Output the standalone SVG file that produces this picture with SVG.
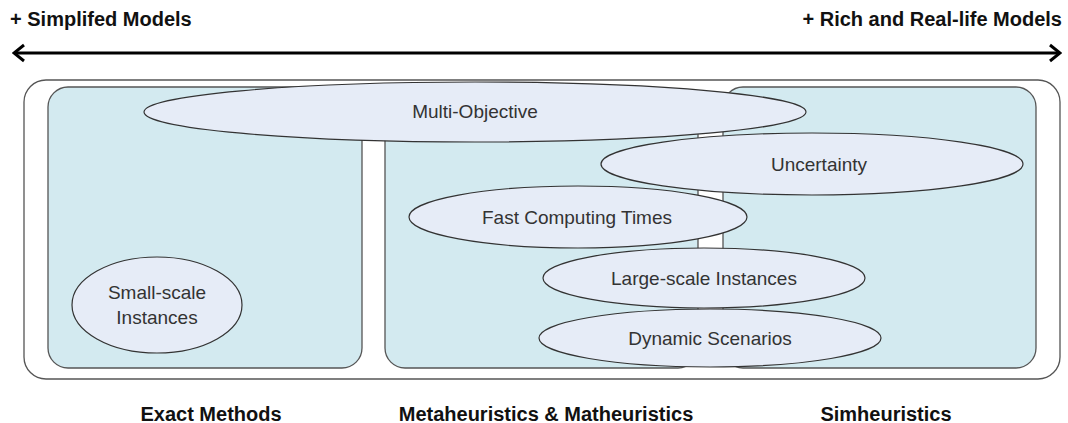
<svg xmlns="http://www.w3.org/2000/svg" width="1068" height="423" viewBox="0 0 1068 423">
<defs>
<style>
.lbl{font-family:"Liberation Sans",Arial,sans-serif;font-size:20px;font-weight:bold;fill:#111}
.txt{font-family:"Liberation Sans",Arial,sans-serif;font-size:19px;fill:#333;text-anchor:middle}
.panel{fill:#d3eaf0;stroke:#555;stroke-width:1.3}
.ell{fill:#e6ecf7;stroke:#333;stroke-width:1.2}
</style>
<marker id="ah" markerWidth="14" markerHeight="20" refX="12" refY="10" orient="auto-start-reverse" markerUnits="userSpaceOnUse">
<path d="M2,2 L12,10 L2,18" fill="none" stroke="#000" stroke-width="3"/>
</marker>
</defs>
<rect width="1068" height="423" fill="#fff"/>
<text class="lbl" x="10" y="26">+ Simplifed Models</text>
<text class="lbl" x="1062" y="26" text-anchor="end">+ Rich and Real-life Models</text>
<g id="connectors">
<line x1="14" y1="53" x2="1060" y2="53" stroke="#000" stroke-width="3" marker-start="url(#ah)" marker-end="url(#ah)"/>
</g>
<g id="frame"><rect x="24" y="80" width="1036" height="299" rx="22" fill="#fff" stroke="#555" stroke-width="1.3"/></g>
<g id="exact"><rect class="panel" x="48" y="87" width="314" height="281" rx="20"/></g>
<g id="meta"><rect class="panel" x="385" y="100" width="313" height="268" rx="20"/></g>
<g id="sim"><rect class="panel" x="723" y="87" width="313" height="281" rx="20"/></g>
<g id="multi"><ellipse class="ell" cx="475" cy="112" rx="331" ry="30"/><text class="txt" x="475" y="118">Multi-Objective</text></g>
<g id="uncert"><ellipse class="ell" cx="812" cy="164" rx="211" ry="31"/><text class="txt" x="819" y="171">Uncertainty</text></g>
<g id="fast"><ellipse class="ell" cx="578" cy="217" rx="169" ry="31"/><text class="txt" x="577" y="224">Fast Computing Times</text></g>
<g id="large"><ellipse class="ell" cx="704" cy="278" rx="161" ry="30"/><text class="txt" x="704" y="285">Large-scale Instances</text></g>
<g id="dynamic"><ellipse class="ell" cx="710" cy="338" rx="171" ry="29"/><text class="txt" x="710" y="345">Dynamic Scenarios</text></g>
<g id="small"><ellipse class="ell" cx="157" cy="305" rx="85" ry="48"/><text class="txt" x="157" y="299">Small-scale</text><text class="txt" x="157" y="324">Instances</text></g>
<text class="lbl" x="211" y="421" text-anchor="middle">Exact Methods</text>
<text class="lbl" x="546" y="421" text-anchor="middle">Metaheuristics &amp; Matheuristics</text>
<text class="lbl" x="886" y="421" text-anchor="middle">Simheuristics</text>
</svg>
